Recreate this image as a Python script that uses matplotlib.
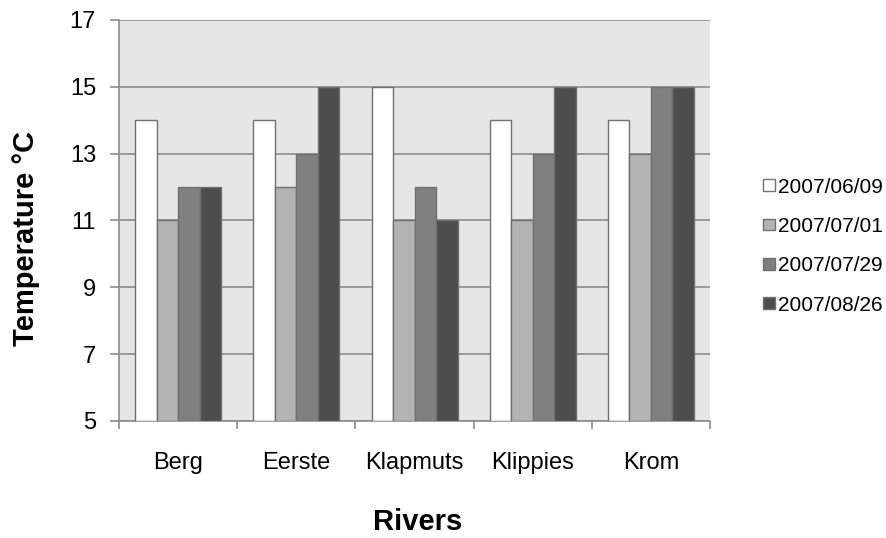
import numpy as np
import matplotlib.pyplot as plt

plt.rcParams['font.family'] = ['Liberation Sans', 'DejaVu Sans']

rivers = ['Berg', 'Eerste', 'Klapmuts', 'Klippies', 'Krom']
dates = ['2007/06/09', '2007/07/01', '2007/07/29', '2007/08/26']
temp_0609 = [14, 14, 15, 14, 14]
temp_0701 = [11, 12, 11, 11, 13]
temp_0729 = [12, 13, 12, 13, 15]
temp_0826 = [12, 15, 11, 15, 15]
series = [temp_0609, temp_0701, temp_0729, temp_0826]
colors = ['#ffffff', '#b3b3b3', '#808080', '#4d4d4d']

fig = plt.figure(figsize=(8.87, 5.38), dpi=100)
ax = fig.add_axes([0.1342, 0.2175, 0.6663, 0.7454])
ax.set_facecolor('#e6e6e6')

x = np.arange(len(rivers))
w = 1 / 5.5
for i, (vals, col) in enumerate(zip(series, colors)):
    ax.bar(x + (i - 1.5) * w, np.array(vals) - 5, bottom=5, width=w, color=col,
           edgecolor='#707070', linewidth=1, label=dates[i], zorder=3)

ax.set_xlim(-0.5, len(rivers) - 0.5)
ax.set_ylim(5, 17)
ax.set_yticks(np.arange(5, 18, 2))
ax.yaxis.grid(True, color='#8c8c8c', linewidth=1.2, zorder=0)
ax.set_axisbelow(True)

ax.set_xticks(x)
ax.set_xticklabels(rivers, fontsize=17)
ax.set_xticks(np.arange(-0.5, len(rivers)), minor=True)
ax.tick_params(axis='x', which='major', length=0, pad=22)
ax.tick_params(axis='x', which='minor', length=6, color='#8c8c8c', width=1.2)
ax.tick_params(axis='y', length=6.5, color='#8c8c8c', width=1.2, labelsize=17, pad=10)

for s in ['top', 'right']:
    ax.spines[s].set_visible(False)
for s in ['left', 'bottom']:
    ax.spines[s].set_color('#8c8c8c')
    ax.spines[s].set_linewidth(1.2)

ax.set_ylabel('Temperature \u00b0C', fontsize=21, fontweight='bold')
ax.yaxis.set_label_coords(-0.134, 0.456)
ax.set_xlabel('Rivers', fontsize=21, fontweight='bold')
ax.xaxis.set_label_coords(0.506, -0.217)

ax.legend(loc='center left', bbox_to_anchor=(1.089, 0.436), frameon=False,
          fontsize=15, handlelength=0.6, handleheight=0.5, handletextpad=0.15,
          labelspacing=0.98, borderaxespad=0, borderpad=0)

fig.savefig('out.png', dpi=100)
